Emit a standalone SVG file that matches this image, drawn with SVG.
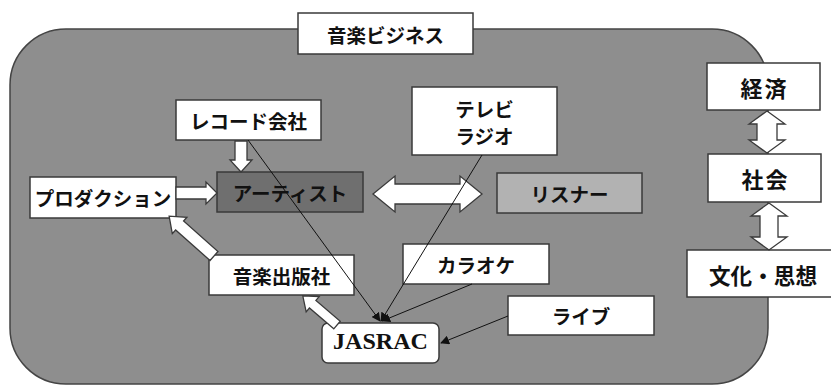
<svg xmlns="http://www.w3.org/2000/svg" width="831" height="386" viewBox="0 0 831 386">
<defs>
<style>
.box{fill:#fff;stroke:#3a3a3a;stroke-width:1.5}
.t{font-family:"Noto Sans CJK JP","Noto Sans",sans-serif;font-weight:bold;font-size:19.5px;fill:#111;text-anchor:middle;dominant-baseline:central}
.big{font-size:22px}
.serif{font-family:"Liberation Serif","DejaVu Serif",serif;font-weight:bold;font-size:24px;fill:#111;text-anchor:middle}
.ba{fill:#fff;stroke:#3a3a3a;stroke-width:1.3;stroke-linejoin:miter}
.ln{stroke:#111;stroke-width:1;fill:none;marker-end:url(#ah)}
</style>
<marker id="ah" viewBox="0 0 10 10" refX="9" refY="5" markerWidth="9" markerHeight="9" markerUnits="userSpaceOnUse" orient="auto">
<path d="M0,0 L10,5 L0,10 z" fill="#111"/>
</marker>
</defs>
<rect x="0" y="0" width="831" height="386" fill="#fff"/>
<rect id="business-area" x="10" y="29" width="758" height="355" rx="56" ry="56" fill="#8e8e8e" stroke="#444" stroke-width="1.5"/>
<g id="title"><rect class="box" x="298" y="13" width="175" height="41"/><text class="t" x="385.5" y="34">音楽ビジネス</text></g>
<g id="record"><rect class="box" x="176" y="100" width="145" height="40"/><text class="t" x="248.5" y="120">レコード会社</text></g>
<g id="tvradio"><rect class="box" x="412" y="87" width="145" height="68"/><text class="t" x="484.5" y="108">テレビ</text><text class="t" x="484.5" y="135">ラジオ</text></g>
<g id="keizai"><rect class="box" x="707" y="63" width="113" height="47"/><text class="t big" x="764.5" y="87" letter-spacing="2">経済</text></g>
<g id="shakai"><rect class="box" x="708" y="154" width="113" height="48"/><text class="t big" x="765.5" y="178" letter-spacing="2">社会</text></g>
<g id="bunka"><rect class="box" x="687" y="250" width="146" height="47"/><text class="t big" x="763" y="274" textLength="108" lengthAdjust="spacingAndGlyphs">文化・思想</text></g>
<g id="artist"><rect x="217" y="172" width="146" height="40" fill="#6f6f6f" stroke="#3a3a3a" stroke-width="1.5"/><text class="t" x="290" y="192">アーティスト</text></g>
<g id="listener"><rect x="497" y="173" width="145" height="40" fill="#b2b2b2" stroke="#3a3a3a" stroke-width="1.5"/><text class="t" x="569.5" y="193">リスナー</text></g>
<g id="production"><rect class="box" x="30" y="177" width="146" height="41"/><text class="t" x="103" y="197.5">プロダクション</text></g>
<g id="publisher"><rect class="box" x="209" y="255" width="145" height="40"/><text class="t" x="281.5" y="275">音楽出版社</text></g>
<g id="karaoke"><rect class="box" x="403" y="244" width="146" height="40"/><text class="t" x="476" y="264">カラオケ</text></g>
<g id="live"><rect class="box" x="508" y="296" width="146" height="39"/><text class="t" x="581" y="315.5">ライブ</text></g>
<g id="jasrac"><rect class="box" x="322" y="323" width="117" height="40" rx="6" ry="6"/><text class="serif" x="380.5" y="349" textLength="95" lengthAdjust="spacingAndGlyphs">JASRAC</text></g>
<g id="block-arrows">
<polygon class="ba" points="235,141 247,141 247,160 252,160 241,172 230,160 235,160"/>
<polygon class="ba" points="176,187 206,187 206,182 217,193 206,204 206,199 176,199"/>
<polygon class="ba" points="373,194 395,176 395,184 460,184 460,176 482,194 460,212 460,204 395,204 395,212"/>
<polygon class="ba" points="767,111 785,124 777,124 777,140 785,140 767,153 749,140 757,140 757,124 749,124"/>
<polygon class="ba" points="769,203 787,216 778,216 778,237 787,237 769,250 751,237 760,237 760,216 751,216"/>
<polygon class="ba" transform="translate(214,256) rotate(221.6)" points="0,-6 46,-6 46,-11 60,0 46,11 46,6 0,6"/>
<polygon class="ba" transform="translate(337,325) rotate(220.5)" points="0,-5 32,-5 32,-10 45,0 32,10 32,5 0,5"/>
</g>
<g id="connectors">
<line class="ln" x1="248" y1="140" x2="380" y2="321"/>
<line class="ln" x1="482" y1="155" x2="381" y2="321"/>
<line class="ln" x1="472" y1="284" x2="382" y2="321"/>
<line class="ln" x1="508" y1="316" x2="441" y2="343"/>
</g>
</svg>
